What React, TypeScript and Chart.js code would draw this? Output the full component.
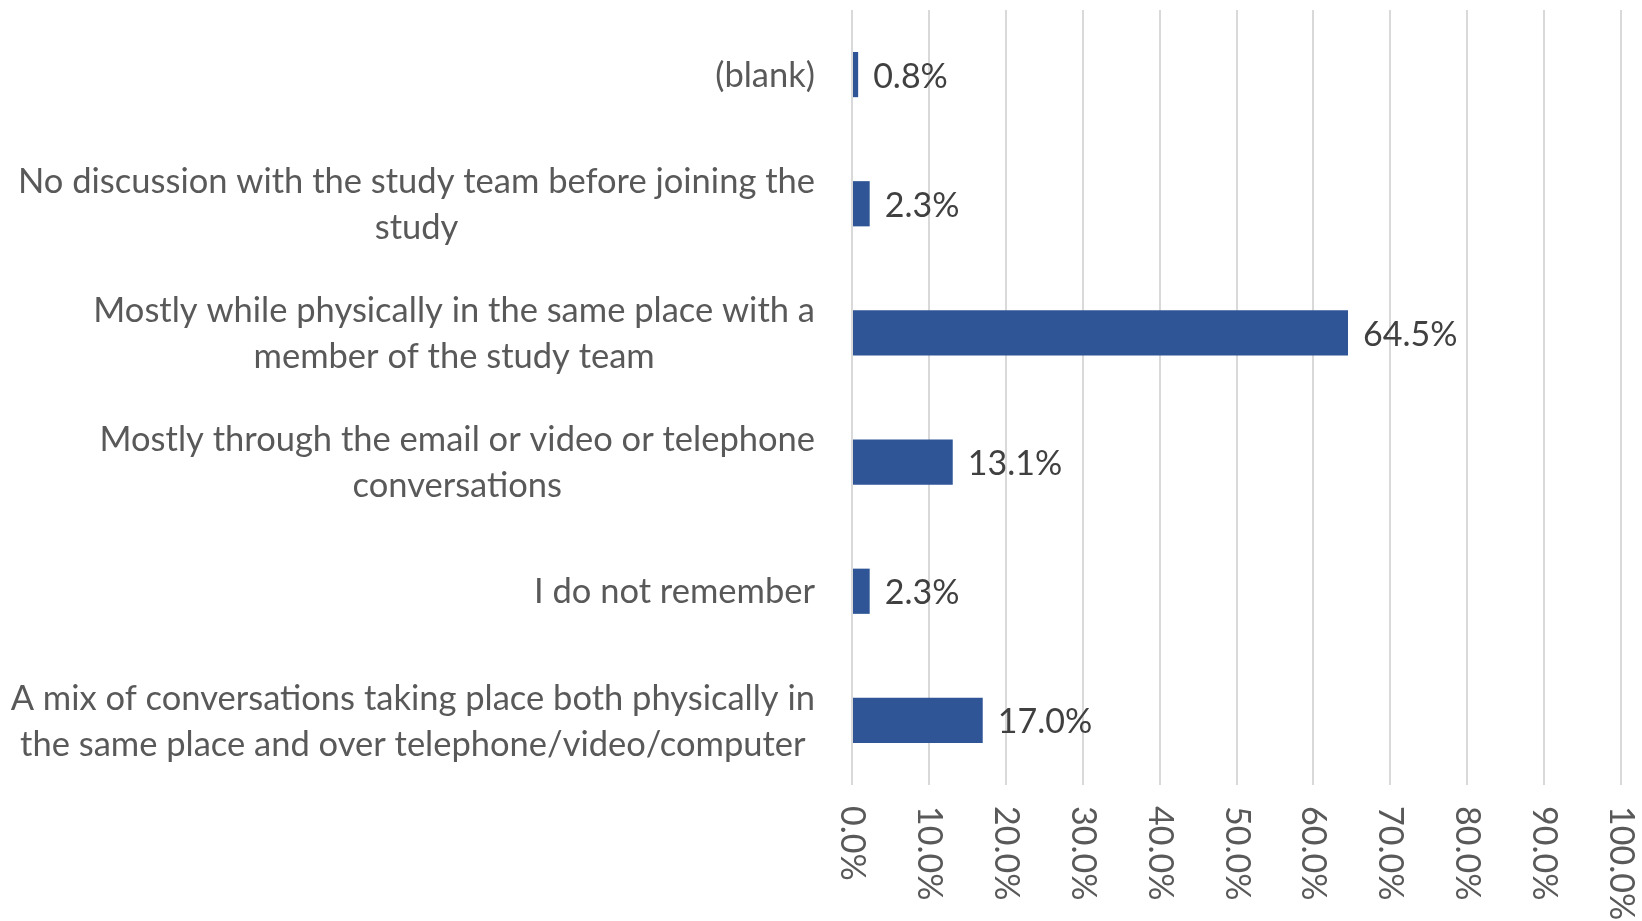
import React, { useEffect, useRef } from "react";
import { Chart, registerables } from "chart.js";

Chart.register(...registerables);

const categories: string[][] = [
  ["(blank)"],
  ["No discussion with the study team before joining the", "study"],
  ["Mostly while physically in the same place with a", "member of the study team"],
  ["Mostly through the email or video or telephone", "conversations"],
  ["I do not remember"],
  ["A mix of conversations taking place both physically in", "the same place and over telephone/video/computer"],
];
const values: number[] = [0.8, 2.3, 64.5, 13.1, 2.3, 17.0];
const valueLabels: string[] = values.map((v) => v.toFixed(1) + "%");
const xMin = 0;
const xMax = 100;
const xStep = 10;
const formatTick = (v: number) => v.toFixed(1) + "%";

const FONT_FAMILY = "Lato";
const FONT_SIZE = 34;
const CAT_FONT_SIZE = 34.5;
const LINE_HEIGHT = 46;

const labelPlugin = {
  id: "customLabels",
  afterDraw(chart: any) {
    const ctx: CanvasRenderingContext2D = chart.ctx;
    const xs = chart.scales.x;
    const ys = chart.scales.y;
    const area = chart.chartArea;
    ctx.save();
    // category labels: block right-aligned, lines centered within block
    ctx.font = `${CAT_FONT_SIZE}px ${FONT_FAMILY}`;
    ctx.fillStyle = "#595959";
    ctx.textBaseline = "middle";
    ctx.textAlign = "center";
    const right = area.left - 37;
    categories.forEach((lines, i) => {
      const cy = ys.getPixelForTick(i) + 1;
      const w = Math.max(...lines.map((l) => ctx.measureText(l).width));
      const cx = right - w / 2;
      lines.forEach((l, j) => {
        ctx.fillText(l, cx, cy + (j - (lines.length - 1) / 2) * LINE_HEIGHT);
      });
    });
    // data labels
    ctx.font = `${FONT_SIZE}px ${FONT_FAMILY}`;
    const meta = chart.getDatasetMeta(0);
    ctx.textAlign = "left";
    ctx.fillStyle = "#404040";
    meta.data.forEach((bar: any, i: number) => {
      ctx.fillText(valueLabels[i], bar.x + 15, bar.y + 2);
    });
    // x tick labels rotated clockwise
    ctx.fillStyle = "#595959";
    xs.ticks.forEach((t: any) => {
      const px = xs.getPixelForValue(t.value);
      ctx.save();
      ctx.translate(px, area.bottom + 21);
      ctx.rotate(Math.PI / 2);
      ctx.textAlign = "left";
      ctx.textBaseline = "middle";
      ctx.fillText(formatTick(t.value), 0, 0);
      ctx.restore();
    });
    ctx.restore();
  },
};

export default function App() {
  const canvasRef = useRef<HTMLCanvasElement | null>(null);

  useEffect(() => {
    let chart: Chart | null = null;
    let cancelled = false;
    const make = () => {
      if (cancelled || !canvasRef.current) return;
      chart = new Chart(canvasRef.current, {
        type: "bar",
        data: {
          labels: categories as any,
          datasets: [
            {
              data: values,
              backgroundColor: "#2F5597",
              borderWidth: 0,
              barPercentage: 0.35,
              categoryPercentage: 1,
            },
          ],
        },
        options: {
          indexAxis: "y",
          animation: false,
          responsive: true,
          maintainAspectRatio: false,
          layout: { padding: { top: 10, right: 21, left: 0, bottom: 0 } },
          plugins: {
            legend: { display: false },
            tooltip: { enabled: false },
          },
          scales: {
            x: {
              min: xMin,
              max: xMax,
              ticks: { stepSize: xStep, display: false },
              grid: { color: "#D9D9D9", lineWidth: 2, drawTicks: false },
              border: { display: false },
              afterFit: (s: any) => {
                s.height = 136;
              },
            },
            y: {
              ticks: { display: false },
              grid: { display: false, drawTicks: false },
              border: { display: false },
              afterFit: (s: any) => {
                s.width = 852;
              },
            },
          },
        } as any,
        plugins: [labelPlugin],
      });
    };
    const p = (document as any).fonts?.load
      ? (document as any).fonts.load(`${FONT_SIZE}px ${FONT_FAMILY}`)
      : Promise.resolve();
    p.then(make, make);
    return () => {
      cancelled = true;
      if (chart) chart.destroy();
    };
  }, []);

  return (
    <div style={{ position: "fixed", left: 0, top: 0, width: 1642, height: 921, background: "#fff" }}>
      <canvas ref={canvasRef} />
    </div>
  );
}
